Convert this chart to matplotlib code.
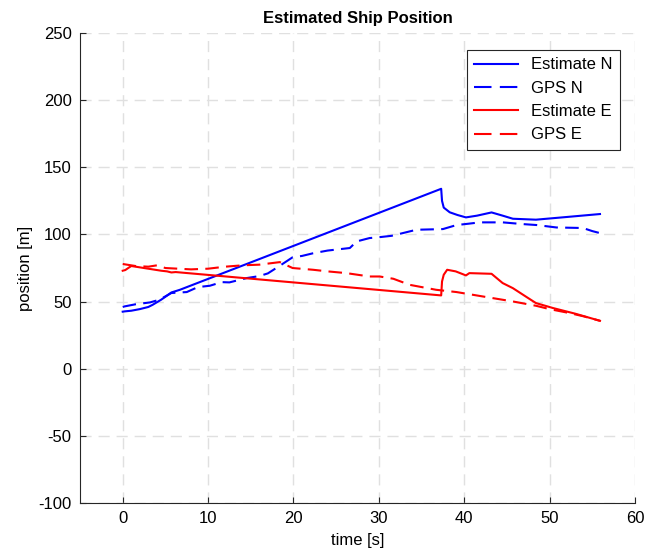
import numpy as np
from matplotlib import pyplot as plt

plt.rcParams['font.family'] = ['Liberation Sans', 'DejaVu Sans']
plt.rcParams['axes.unicode_minus'] = False

# estimate N
t_est_n = [0, 0.2, 1, 2, 3, 3.5, 4.5, 5.2, 5.7, 6.7, 37.3, 37.4, 37.6, 38.3, 39.2, 40.2, 41.5, 43.2, 44.5, 45.7, 48.4, 52.0, 55.9]
est_n = [42.5, 42.7, 43.2, 44.4, 46.0, 47.6, 51.4, 54.5, 56.8, 58.8, 134.0, 125.0, 120.0, 116.5, 114.5, 112.7, 114.0, 116.4, 114.0, 111.7, 111.0, 113.0, 115.2]

# gps N
t_gps_n = [0, 0.2, 1.5, 3.2, 4.3, 5.7, 7.5, 8.8, 10.2, 11.6, 12.5, 14.5, 16.0, 17.0, 18.4, 19.9, 21.0, 22.3, 24.0, 26.6, 27.4, 28.9, 30.1, 31.5, 32.8, 34.4, 37.5, 39.1, 40.5, 41.8, 44.5, 46.9, 48.5, 50.8, 53.9, 55.0, 56.2]
gps_n = [46.0, 46.4, 48.0, 49.4, 51.4, 56.4, 57.1, 60.8, 61.8, 64.5, 64.3, 67.5, 69.0, 71.0, 76.7, 83.0, 84.0, 86.0, 88.0, 89.9, 94.8, 97.3, 98.0, 99.0, 101.0, 103.5, 104.0, 107.0, 108.0, 109.0, 109.0, 107.7, 107.0, 105.2, 104.8, 102.5, 100.5]

# estimate E
t_est_e = [0, 0.3, 1.0, 1.5, 2.5, 3.5, 4.5, 5.2, 5.7, 6.2, 37.3, 37.4, 37.6, 38.0, 39.0, 40.2, 40.6, 43.2, 44.5, 45.7, 47.3, 48.4, 50.4, 53.0, 55.9]
est_e = [73.0, 73.5, 76.5, 76.0, 75.0, 74.0, 73.0, 72.5, 71.7, 72.0, 54.6, 65.0, 70.0, 73.7, 72.5, 69.5, 71.2, 70.7, 63.8, 60.0, 53.4, 48.9, 45.2, 41.0, 35.7]

# gps E
t_gps_e = [0, 0.5, 1.5, 3.0, 4.0, 5.0, 6.5, 8.0, 10.0, 12.0, 14.0, 16.0, 18.4, 19.9, 22.3, 24.0, 26.2, 28.9, 30.1, 31.7, 33.6, 36.7, 39.1, 42.2, 45.7, 48.4, 50.0, 52.3, 54.0, 55.9]
gps_e = [78.0, 77.5, 76.5, 76.0, 77.0, 75.0, 74.5, 74.0, 74.5, 76.0, 77.0, 77.5, 79.4, 75.0, 73.7, 72.5, 71.2, 68.7, 68.7, 67.0, 62.5, 58.8, 57.1, 53.8, 50.1, 46.9, 44.4, 41.5, 39.0, 35.7]

fig = plt.figure(figsize=(6.57, 5.54), dpi=100)
ax = fig.add_axes([0.1218, 0.092, 0.8447, 0.8484])

ax.plot(t_est_n, est_n, color='#0000ff', lw=1.5, label='Estimate N')
ax.plot(t_gps_n, gps_n, color='#0000ff', lw=1.5, ls=(0, (6.5, 3.5)), label='GPS N')
ax.plot(t_est_e, est_e, color='#ff0000', lw=1.5, label='Estimate E')
ax.plot(t_gps_e, gps_e, color='#ff0000', lw=1.5, ls=(0, (6.5, 3.5)), label='GPS E')

ax.set_xlim(-5, 60)
ax.set_ylim(-100, 250)
ax.set_xticks(np.arange(0, 61, 10))
ax.set_yticks(np.arange(-100, 251, 50))
ax.grid(True, color='#e0e0e0', ls=(0, (8, 5)), lw=1)
ax.set_axisbelow(True)
ax.spines['top'].set_visible(False)
ax.spines['right'].set_visible(False)
ax.spines['left'].set_color('#262626')
ax.spines['bottom'].set_color('#262626')
ax.tick_params(direction='in', labelsize=12, colors='#262626', labelcolor='black', length=4, pad=6)

ax.set_title('Estimated Ship Position', fontsize=12, fontweight='bold', pad=7)
ax.set_xlabel('time [s]', fontsize=12, labelpad=5)
ax.set_ylabel('position [m]', fontsize=12)

leg = ax.legend(loc='upper right', bbox_to_anchor=(0.973, 0.964), borderaxespad=0, fontsize=12,
                fancybox=False, edgecolor='#262626', framealpha=1, handlelength=2.6,
                labelspacing=0.5, borderpad=0.45)
leg.get_frame().set_linewidth(0.8)
# two even dashes in the legend samples
for ln in leg.get_lines()[1::2]:
    ln.set_linestyle((0, (8.4, 4)))

fig.savefig('out.png', dpi=100)
